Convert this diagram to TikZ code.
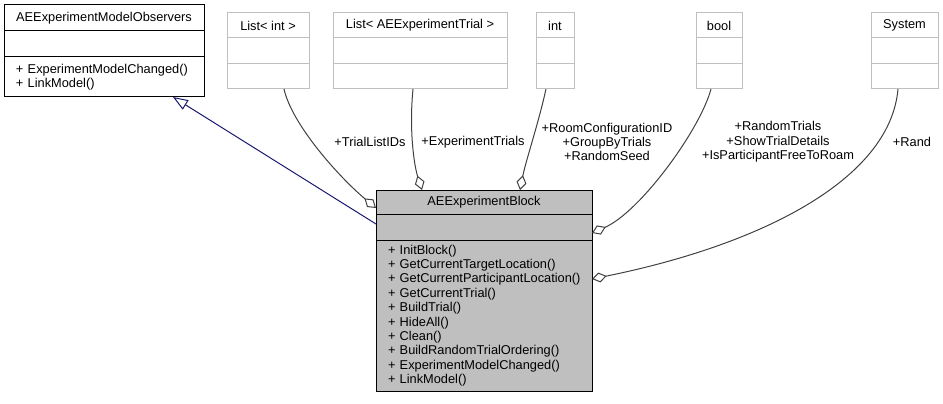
\documentclass[tikz,border=0pt]{standalone}
\usepackage{fontspec}
\setmainfont{Liberation Sans}
\usetikzlibrary{positioning, arrows.meta}

\definecolor{extgray}{HTML}{BFBFBF}
\definecolor{blkfill}{HTML}{BFBFBF}
\definecolor{edgegray}{HTML}{404040}
\definecolor{inhblue}{HTML}{191970}

\newcommand{\doxfont}{\fontsize{12.8}{14.4}\selectfont\hyphenpenalty=10000\relax}

\begin{document}
\begin{tikzpicture}[
    x=1pt, y=-1pt,
    node distance=0pt,
    clshead/.style={rectangle, draw=black, fill=white, inner sep=0pt, outer sep=0pt,
                    minimum height=25pt, font=\doxfont, line width=1pt},
    clsattr/.style={clshead, minimum height=26pt},
    clsops/.style={clshead, align=left, inner xsep=12pt},
    ext/.style={draw=extgray},
    main/.style={draw=black, fill=blkfill},
    agg/.style={draw=edgegray, line width=1pt, -{Diamond[open, length=15pt, width=10pt]}},
    inh/.style={draw=inhblue, line width=1pt, -{Triangle[open, length=15pt, width=11pt]}},
    lbl/.style={font=\doxfont, align=center, inner sep=0pt},
]
\useasboundingbox (0,0) rectangle (943,404);

% base class
\node[clshead, minimum width=200pt, minimum height=26pt, anchor=north west] (obs) at (4,5) {AEExperimentModelObservers};
\node[clsattr, minimum width=200pt, below=of obs] (obs-attr) {};
\node[clsops, text width=176pt, minimum height=40pt, below=of obs-attr] (obs-ops) {+~ExperimentModelChanged()\\+~LinkModel()};

% member types
\node[clshead, ext, minimum width=82pt, anchor=north west] (lint) at (227,13) {List< int >};
\node[clsattr, ext, minimum width=82pt, below=of lint] (lint-attr) {};
\node[clsops, ext, minimum width=82pt, below=of lint-attr] (lint-ops) {};

\node[clshead, ext, minimum width=174pt, anchor=north west] (ltrial) at (333,13) {List< AEExperimentTrial >};
\node[clsattr, ext, minimum width=174pt, below=of ltrial] (ltrial-attr) {};
\node[clsops, ext, minimum width=174pt, below=of ltrial-attr] (ltrial-ops) {};

\node[clshead, ext, minimum width=38pt, anchor=north west] (tint) at (536,13) {int};
\node[clsattr, ext, minimum width=38pt, below=of tint] (tint-attr) {};
\node[clsops, ext, minimum width=38pt, below=of tint-attr] (tint-ops) {};

\node[clshead, ext, minimum width=46pt, anchor=north west] (tbool) at (696,13) {bool};
\node[clsattr, ext, minimum width=46pt, below=of tbool] (tbool-attr) {};
\node[clsops, ext, minimum width=46pt, below=of tbool-attr] (tbool-ops) {};

\node[clshead, ext, minimum width=67pt, anchor=north west] (tsys) at (871,13) {System};
\node[clsattr, ext, minimum width=67pt, below=of tsys] (tsys-attr) {};
\node[clsops, ext, minimum width=67pt, below=of tsys-attr] (tsys-ops) {};

% the block
\node[clshead, main, minimum width=216pt, minimum height=24pt, anchor=north west] (blk) at (376,190) {AEExperimentBlock};
\node[clsattr, main, minimum width=216pt, below=of blk] (blk-attr) {};
\node[clsops, main, text width=192pt, minimum height=151pt, below=of blk-attr] (blk-ops) {+~InitBlock()\\+~GetCurrentTargetLocation()\\+~GetCurrentParticipantLocation()\\+~GetCurrentTrial()\\+~BuildTrial()\\+~HideAll()\\+~Clean()\\+~BuildRandomTrialOrdering()\\+~ExperimentModelChanged()\\+~LinkModel()};

% edges
\draw[inh] ([yshift=3pt]blk-attr.west) -- ([xshift=69pt]obs-ops.south);
\draw[agg] ([xshift=16pt]lint-ops.south) .. controls +(8,36) and +(-36,-30) .. ([yshift=-6pt]blk.west);
\draw[agg] ([xshift=-7pt]ltrial-ops.south) .. controls +(-4,41) and +(-8,-25) .. ([xshift=-62pt]blk.north);
\draw[agg] ([xshift=-9pt]tint-ops.south) .. controls +(-8,36) and +(6,-30) .. ([xshift=36pt]blk.north);
\draw[agg] ([xshift=-8pt]tbool-ops.south) .. controls +(-11,41) and +(48,-21) .. ([yshift=-6pt]blk-attr.east);
\draw[agg] ([xshift=-6.5pt]tsys-ops.south) .. controls +(-8,91) and +(168,-34) .. ([yshift=36.5pt]blk-ops.east);

% labels
\node[lbl] (lbl-ids) at (370,142) {+TrialListIDs};
\node[lbl] (lbl-trials) at (473,142) {+ExperimentTrials};
\node[lbl] (lbl-int) at (607,142) {+RoomConfigurationID\\+GroupByTrials\\+RandomSeed};
\node[lbl] (lbl-bool) at (778,142) {+RandomTrials\\+ShowTrialDetails\\+IsParticipantFreeToRoam};
\node[lbl] (lbl-sys) at (912,142) {+Rand};
\end{tikzpicture}
\end{document}
